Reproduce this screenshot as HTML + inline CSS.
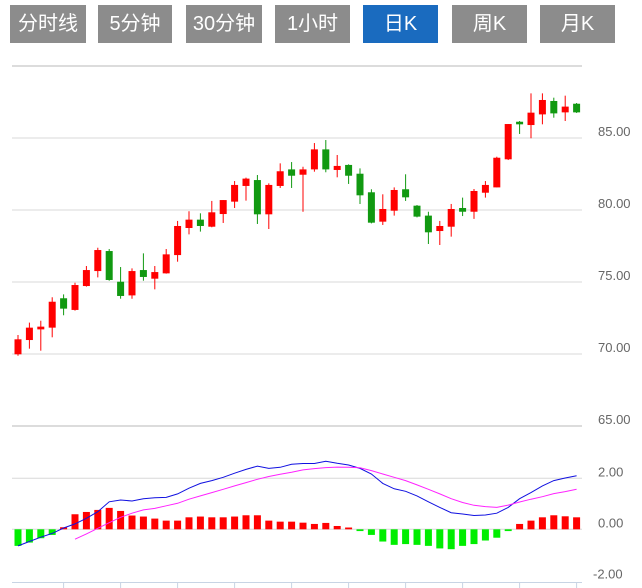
<!DOCTYPE html>
<html><head><meta charset="utf-8">
<style>
body{margin:0;background:#fff;width:642px;height:588px;overflow:hidden;font-family:"Liberation Sans","Noto Sans CJK SC",sans-serif}
.btn{position:absolute;top:5px;height:38px;line-height:38px;background:#8c8c8c;color:#fff;font-size:20px;text-align:center}
.btn.on{background:#1a6bbf}
svg{position:absolute;left:0;top:0}
</style></head><body>
<div class="btn" style="left:10px;width:76px">分时线</div>
<div class="btn" style="left:98px;width:74px">5分钟</div>
<div class="btn" style="left:186px;width:76px">30分钟</div>
<div class="btn" style="left:275px;width:75px">1小时</div>
<div class="btn on" style="left:363px;width:75px">日K</div>
<div class="btn" style="left:452px;width:75px">周K</div>
<div class="btn" style="left:540px;width:75px">月K</div>
<svg id="chart" width="642" height="588"></svg>
<script>
const opens=[69.98,70.97,71.71,71.83,73.87,73.06,74.72,75.76,77.15,75.02,74.07,75.83,75.23,75.6,76.87,78.75,79.33,78.84,79.72,80.58,81.67,82.08,79.7,81.67,82.82,82.45,82.82,84.21,82.78,83.13,82.52,81.23,79.19,79.95,81.44,80.3,79.61,78.54,78.84,80.14,79.88,81.2,81.57,83.52,86.13,85.9,86.64,87.57,86.78,87.38];
const closes=[71.02,71.83,71.9,73.63,73.15,74.79,75.83,77.22,75.14,74.03,75.76,75.35,75.69,76.92,78.89,79.33,78.89,79.84,80.69,81.74,82.18,79.7,81.74,82.69,82.38,82.82,84.21,82.82,83.06,82.38,81.02,79.12,80.07,81.39,80.88,79.54,78.45,78.89,80.07,79.88,81.32,81.74,83.63,85.97,85.95,86.76,87.64,86.71,87.18,86.78];
const highs=[71.32,72.18,72.31,73.94,74.14,74.95,76.11,77.38,77.29,76.04,75.95,76.99,76.11,77.29,79.24,79.91,79.77,80.63,80.69,82.01,82.25,82.43,81.85,83.24,83.33,83.0,84.65,84.86,83.82,83.17,82.89,81.44,81.09,81.57,82.48,80.35,79.88,79.24,80.42,80.86,81.46,82.01,83.7,85.97,86.18,88.1,88.1,87.8,87.94,87.43];
const lows=[69.88,70.37,70.23,71.16,72.69,73.01,74.68,75.32,75.09,73.84,73.84,75.09,74.49,75.58,76.41,78.31,78.5,78.8,79.1,80.14,80.65,79.03,78.68,81.53,81.53,79.88,82.66,82.62,82.27,81.81,80.42,79.07,78.96,79.61,80.63,79.49,77.64,77.57,78.15,79.58,79.38,80.86,81.57,83.47,85.28,84.98,85.95,86.41,86.18,86.74];
const macd=[-0.65,-0.52,-0.35,-0.22,0.08,0.59,0.68,0.76,0.84,0.72,0.54,0.5,0.42,0.34,0.34,0.47,0.5,0.47,0.47,0.5,0.55,0.55,0.34,0.3,0.3,0.26,0.21,0.25,0.13,0.07,-0.07,-0.22,-0.48,-0.61,-0.58,-0.61,-0.65,-0.75,-0.78,-0.65,-0.58,-0.44,-0.33,-0.07,0.21,0.34,0.47,0.55,0.51,0.47];
const dif=[-0.65,-0.48,-0.31,-0.16,0.05,0.21,0.43,0.69,1.08,1.15,1.11,1.2,1.24,1.25,1.39,1.61,1.8,1.91,2.04,2.2,2.35,2.48,2.39,2.43,2.55,2.58,2.58,2.67,2.59,2.52,2.39,2.17,1.8,1.59,1.49,1.31,1.08,0.86,0.65,0.6,0.54,0.56,0.63,0.86,1.2,1.44,1.7,1.91,2.01,2.1];
const dea=[null,null,null,null,null,-0.39,-0.18,0.04,0.26,0.47,0.63,0.76,0.82,0.92,1.02,1.18,1.31,1.44,1.57,1.7,1.83,1.96,2.07,2.16,2.24,2.33,2.38,2.42,2.44,2.43,2.41,2.3,2.17,2.04,1.91,1.74,1.57,1.39,1.2,1.05,0.94,0.89,0.86,0.95,1.07,1.18,1.28,1.4,1.48,1.57];
const priceTicks=[90,85,80,75,70,65];
const priceLabels=["","85.00","80.00","75.00","70.00","65.00"];
const macdTicks=[2,0,-2];
const macdLabels=["2.00","0.00","-2.00"];

const svg=document.getElementById('chart');
const NS='http://www.w3.org/2000/svg';
const X0=12,X1=582,N=opens.length,BW=(X1-X0)/N;
const xc=i=>X0+BW*(i+0.5)+0.3;
const py=p=>138+(85-p)*14.4;
const my=v=>529.3-v*25.5;
function mk(tag,attrs){const e=document.createElementNS(NS,tag);for(const k in attrs)e.setAttribute(k,attrs[k]);svg.appendChild(e);return e;}

priceTicks.forEach((t,i)=>{
  const g=mk('line',{x1:X0,x2:X1,y1:py(t),y2:py(t),stroke:(i==0||i==5)?'#dcdcdc':'#d8d8d8','stroke-width':(i==0||i==5)?2:1});
  
  
  if(priceLabels[i]){const tx=mk('text',{x:598,y:py(t)-2,'font-size':13,fill:'#666'});tx.textContent=priceLabels[i];
  
  }
});
macdTicks.forEach((t,i)=>{
  if(t!==-2){const g=mk('line',{x1:X0,x2:X1,y1:my(t),y2:my(t),stroke:'#d8d8d8','stroke-width':1});
  
  }
  const tx=mk('text',{x:t<0?593:598,y:my(t)-2,'font-size':13,fill:'#666'});tx.textContent=macdLabels[i];
  
  
});
const ax=mk('line',{x1:X0,x2:X1,y1:582.5,y2:582.5,stroke:'#c8d4e4'});


for(let i=4;i<N;i+=5){const t=mk('line',{x1:xc(i),x2:xc(i),y1:582,y2:588,stroke:'#c8d4e4'});

}

for(let i=0;i<N;i++){
  const up=closes[i]>=opens[i],col=up?'#ff0000':'#119911';
  const w=mk('line',{x1:xc(i),x2:xc(i),y1:py(highs[i]),y2:py(lows[i]),stroke:col,'stroke-width':1});
  
  
  const t=py(Math.max(opens[i],closes[i])),b=py(Math.min(opens[i],closes[i]));
  const r=mk('rect',{x:xc(i)-3.5,y:t,width:7,height:Math.max(1,b-t),fill:col});
  
  
}
for(let i=0;i<N;i++){
  const v=macd[i],y0=my(0),y=my(v);
  const r=mk('rect',{x:xc(i)-3.5,y:Math.min(y,y0),width:7,height:Math.max(1,Math.abs(y-y0)),fill:v>=0?'#ff0000':'#00ee00'});
  
  
}
function path(arr,col,name){let d='';arr.forEach((v,i)=>{if(v===null)return;d+=(d?'L':'M')+xc(i).toFixed(1)+' '+my(v).toFixed(1);});
  const p=mk('path',{d:d,fill:'none',stroke:col,'stroke-width':1});
  
  }
path(dif,'#1010e0','dif-line');
path(dea,'#ff22ff','dea-line');
</script>
</body></html>
